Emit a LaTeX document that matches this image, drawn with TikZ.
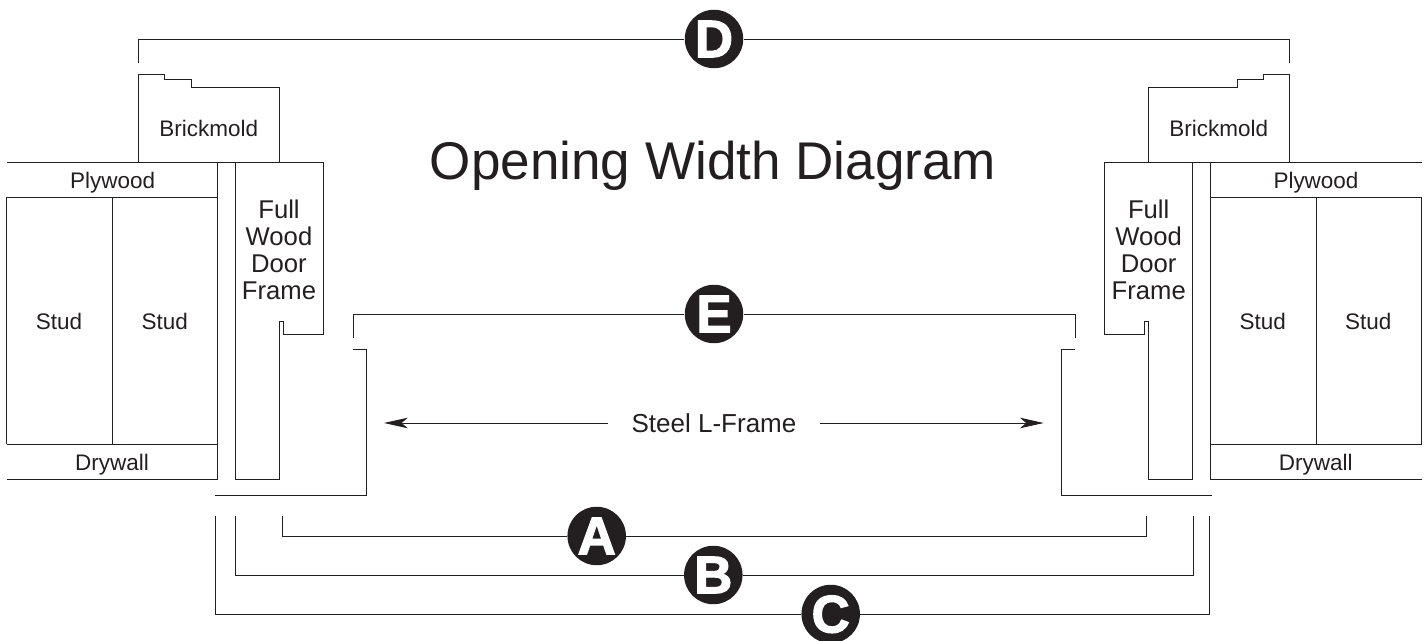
\documentclass[tikz,border=0pt]{standalone}
\usepackage{fontspec}
\setmainfont{Liberation Sans}
\newfontfamily\badgefont[FakeBold=2.4]{Liberation Sans Bold}
\usetikzlibrary{arrows.meta}
\definecolor{inkblack}{HTML}{231F20}
\tikzset{
  partline/.style={color=inkblack,line width=0.5pt},
  dimline/.style={color=inkblack,line width=0.5pt},
  partlabel/.style={color=inkblack,anchor=base,inner sep=0pt,font=\fontsize{12.8}{15}\selectfont},
  framelabel/.style={color=inkblack,align=center,inner sep=0pt,font=\fontsize{14.6}{15.4}\selectfont},
  badge/.style={circle,fill=inkblack,text=white,inner sep=0pt,minimum size=1.17cm,text depth=0pt,font=\badgefont\fontsize{30}{30}\selectfont}
}
\begin{document}
\begin{tikzpicture}[x=0.02cm,y=-0.02cm]
    \useasboundingbox (0,0) rectangle (1427,641);
    % Titulo
    \node[color=inkblack,anchor=base,inner sep=0pt,font=\fontsize{30.2}{36}\selectfont] (title) at (713,180) {Opening Width Diagram};
    % Linea superior, de muro a marco
    \draw[partline] (6.5,162.7) -- (323.5,162.7);
    \draw[partline] (1104.7,162.7) -- (1421.7,162.7);
    % Muro izquierdo
    \draw[partline] (217.7,162.7) -- (217.7,479.5) -- (6.5,479.5);
    \draw[partline] (6.5,444.3) -- (6.5,197.7) -- (217.7,197.7);
    \draw[partline] (6.5,444.3) -- (217.7,444.3);
    \draw[partline] (112,197.7) -- (112,444.3);
    \node[partlabel] (plywoodL) at (112.6,189) {Plywood};
    \node[partlabel] (studLa) at (59,329.3) {Stud};
    \node[partlabel] (studLb) at (164.7,329.3) {Stud};
    \node[partlabel] (drywallL) at (112,470.7) {Drywall};
    % Muro derecho
    \draw[partline] (1210.3,162.7) -- (1210.3,479.5) -- (1421.7,479.5);
    \draw[partline] (1421.7,444.3) -- (1421.7,197.7) -- (1210.3,197.7);
    \draw[partline] (1421.7,444.3) -- (1210.3,444.3);
    \draw[partline] (1316,197.7) -- (1316,444.3);
    \node[partlabel] (plywoodR) at (1316,189) {Plywood};
    \node[partlabel] (studRa) at (1262.7,329.3) {Stud};
    \node[partlabel] (studRb) at (1368.3,329.3) {Stud};
    \node[partlabel] (drywallR) at (1315.7,470.7) {Drywall};
    % Brickmold
    \draw[partline] (138.5,162.7) -- (138.5,74.5) -- (164.5,74.5) -- (164.5,79.5) -- (191.5,79.5) -- (191.5,87.5) -- (279.5,87.5) -- (279.5,162.7);
    \node[partlabel] (brickL) at (208.7,137) {Brickmold};
    \draw[partline] (1148.7,162.7) -- (1148.7,87.5) -- (1237,87.5) -- (1237,79.5) -- (1263.7,79.5) -- (1263.7,74.5) -- (1289.3,74.5) -- (1289.3,162.7);
    \node[partlabel] (brickR) at (1218.7,137) {Brickmold};
    % Marco de madera
    \draw[partline] (235,162.7) -- (323.5,162.7) -- (323.5,334.3) -- (283.5,334.3) -- (283.5,321) -- (279.5,321) -- (279.5,479.5) -- (235,479.5) -- cycle;
    \node[framelabel] (frameL) at (279,250) {Full\\Wood\\Door\\Frame};
    \draw[partline] (1192.7,162.7) -- (1104.7,162.7) -- (1104.7,334.3) -- (1144.7,334.3) -- (1144.7,321) -- (1148.7,321) -- (1148.7,479.5) -- (1192.7,479.5) -- cycle;
    \node[framelabel] (frameR) at (1148.7,250) {Full\\Wood\\Door\\Frame};
    % Marco L de acero
    \draw[partline] (353,349) -- (366.5,349) -- (366.5,495.7) -- (215,495.7);
    \draw[partline] (1074.7,349) -- (1061.3,349) -- (1061.3,495.7) -- (1212.3,495.7);
    \coordinate (tipL) at (384,423);
    \coordinate (tipR) at (1043.7,423);
    \node[color=inkblack,inner xsep=13pt,inner ysep=0pt,text depth=0pt,font=\fontsize{14.8}{16}\selectfont] (steel) at (714,423) {Steel L-Frame};
    \draw[partline,-{Stealth[length=13.5pt,width=6pt,inset=3.5pt]}] (steel.west) -- (tipL);
    \draw[partline,-{Stealth[length=13.5pt,width=6pt,inset=3.5pt]}] (steel.east) -- (tipR);
    % Cotas
    \node[badge] (dimA) at (596.7,536) {A};
    \node[badge] (dimB) at (713.3,575) {B};
    \node[badge] (dimC) at (830.7,614) {C};
    \node[badge] (dimD) at (714,39) {D};
    \node[badge] (dimE) at (714,314) {E};
    \coordinate (dimAl) at (282.7,515.7);
    \coordinate (dimAr) at (1146,515.7);
    \coordinate (dimBl) at (235,515.7);
    \coordinate (dimBr) at (1193.3,515.7);
    \coordinate (dimCl) at (215.3,515.7);
    \coordinate (dimCr) at (1209,515.7);
    \coordinate (dimDl) at (138.5,62.7);
    \coordinate (dimDr) at (1289.3,62.7);
    \coordinate (dimEl) at (353,337.7);
    \coordinate (dimEr) at (1075.3,337.7);
    \draw[dimline] (dimAl) |- (dimA.west);
    \draw[dimline] (dimAr) |- (dimA.east);
    \draw[dimline] (dimBl) |- (dimB.west);
    \draw[dimline] (dimBr) |- (dimB.east);
    \draw[dimline] (dimCl) |- (dimC.west);
    \draw[dimline] (dimCr) |- (dimC.east);
    \draw[dimline] (dimDl) |- (dimD.west);
    \draw[dimline] (dimDr) |- (dimD.east);
    \draw[dimline] (dimEl) |- (dimE.west);
    \draw[dimline] (dimEr) |- (dimE.east);
\end{tikzpicture}
\end{document}
